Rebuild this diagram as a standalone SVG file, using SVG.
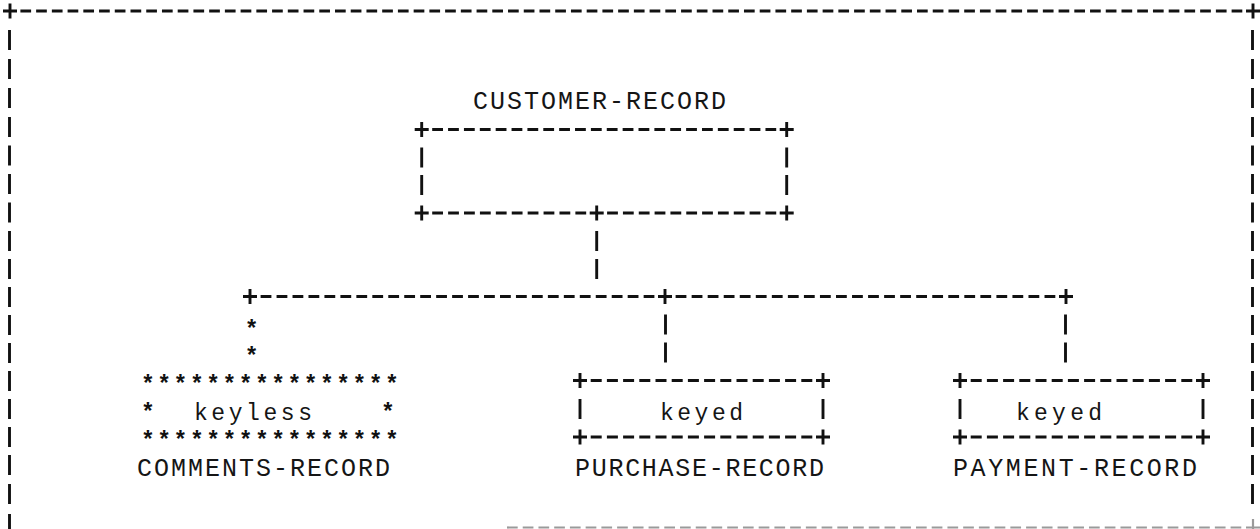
<svg xmlns="http://www.w3.org/2000/svg" width="1260" height="529" viewBox="0 0 1260 529">
  <style>
    .dash { fill: none; stroke: #111; stroke-width: 2.8; }
    .faint { fill: none; stroke: #9a9a9a; stroke-width: 2.2; }
    .mark { fill: none; stroke: #111; stroke-width: 2.9; }
    .label { font-family: "Liberation Mono", "DejaVu Sans Mono", monospace; font-size: 25px; fill: #151515; }
    .inner { font-family: "Liberation Mono", "DejaVu Sans Mono", monospace; font-size: 23px; fill: #151515; }
    .star { font-family: "Liberation Mono", "DejaVu Sans Mono", monospace; font-size: 23px; font-weight: bold; fill: #111; text-anchor: middle; }
  </style>
  <defs>
    <!-- junction / corner mark -->
    <path id="plus" class="mark" d="M -7 0 H 7 M 0 -7.5 V 7.5"/>
    <!-- vertical bar segment -->
    <path id="bar" class="mark" d="M 0 -10 V 10"/>
  </defs>
  <rect width="1260" height="529" fill="#fff"/>

  <!-- outer frame -->
  <g id="frame">
    <path class="dash" d="M 20.4 11 H 1242.6" stroke-dasharray="10.7 5.03"/>
    <use href="#plus" x="10" y="11"/>
    <use href="#plus" x="1253" y="11"/>
    <use href="#bar" x="9.5" y="40"/>
    <use href="#bar" x="9.5" y="69"/>
    <use href="#bar" x="9.5" y="98"/>
    <use href="#bar" x="9.5" y="127"/>
    <use href="#bar" x="9.5" y="155.5"/>
    <use href="#bar" x="9.5" y="184"/>
    <use href="#bar" x="9.5" y="212.5"/>
    <use href="#bar" x="9.5" y="241"/>
    <use href="#bar" x="9.5" y="269"/>
    <use href="#bar" x="9.5" y="297"/>
    <use href="#bar" x="9.5" y="325"/>
    <use href="#bar" x="9.5" y="353"/>
    <use href="#bar" x="9.5" y="381"/>
    <use href="#bar" x="9.5" y="409"/>
    <use href="#bar" x="9.5" y="437"/>
    <use href="#bar" x="9.5" y="465"/>
    <use href="#bar" x="9.5" y="494"/>
    <use href="#bar" x="9.5" y="524"/>
    <use href="#bar" x="1252.5" y="40"/>
    <use href="#bar" x="1252.5" y="69"/>
    <use href="#bar" x="1252.5" y="98"/>
    <use href="#bar" x="1252.5" y="127"/>
    <use href="#bar" x="1252.5" y="155.5"/>
    <use href="#bar" x="1252.5" y="184"/>
    <use href="#bar" x="1252.5" y="212.5"/>
    <use href="#bar" x="1252.5" y="241"/>
    <use href="#bar" x="1252.5" y="269"/>
    <use href="#bar" x="1252.5" y="297"/>
    <use href="#bar" x="1252.5" y="325"/>
    <use href="#bar" x="1252.5" y="353"/>
    <use href="#bar" x="1252.5" y="381"/>
    <use href="#bar" x="1252.5" y="409"/>
    <use href="#bar" x="1252.5" y="437"/>
    <use href="#bar" x="1252.5" y="465"/>
    <use href="#bar" x="1252.5" y="494"/>
    <!-- bottom edge, faded -->
    <path class="faint" d="M 507 527.5 H 1242" stroke-dasharray="10.7 5.03"/>
    <path class="faint" d="M 1246 527.5 H 1260 M 1253 519 V 529"/>
  </g>

  <!-- parent record -->
  <g id="customer-record">
    <text class="label" x="473" y="109" textLength="253" lengthAdjust="spacing">CUSTOMER-RECORD</text>
    <path class="dash" d="M 432.2 129.5 H 776.2" stroke-dasharray="10.8 5.07"/>
    <path class="dash" d="M 432.2 213 H 586.2" stroke-dasharray="10.8 5.109"/>
    <path class="dash" d="M 607.1 213 H 776.3" stroke-dasharray="10.8 5.033"/>
    <use href="#plus" x="421.7" y="129.5"/>
    <use href="#plus" x="786.7" y="129.5"/>
    <use href="#plus" x="421.7" y="213"/>
    <use href="#plus" x="786.7" y="213"/>
    <use href="#bar" x="421.7" y="157.5"/>
    <use href="#bar" x="421.7" y="185"/>
    <use href="#bar" x="786.7" y="157.5"/>
    <use href="#bar" x="786.7" y="185"/>
  </g>

  <!-- set connectors -->
  <g id="connectors">
    <use href="#plus" x="596.7" y="213"/>
    <use href="#bar" x="596.7" y="241"/>
    <use href="#bar" x="596.7" y="269"/>
    <path class="dash" d="M 260.6 296.5 H 654.4" stroke-dasharray="10.8 5.16"/>
    <path class="dash" d="M 675.6 296.5 H 1055.4" stroke-dasharray="10.8 5.24"/>
    <use href="#plus" x="250" y="296.5"/>
    <use href="#plus" x="665" y="296.5"/>
    <use href="#plus" x="1066" y="296.5"/>
    <text class="star" x="251.7" y="336.5">*</text>
    <text class="star" x="251.7" y="363.5">*</text>
    <use href="#bar" x="665.5" y="324.5"/>
    <use href="#bar" x="665.5" y="352.5"/>
    <use href="#bar" x="1065.5" y="324.5"/>
    <use href="#bar" x="1065.5" y="352.5"/>
  </g>

  <!-- keyless member record, starred border -->
  <g id="comments-record">
    <text class="star" x="148 164.27 180.53 196.8 213.07 229.33 245.6 261.87 278.13 294.4 310.67 326.93 343.2 359.47 375.73 392" y="392">****************</text>
    <text class="star" x="148" y="420">*</text>
    <text class="star" x="388" y="420">*</text>
    <text class="inner" x="194" y="420" textLength="118" lengthAdjust="spacing">keyless</text>
    <text class="star" x="148 164.27 180.53 196.8 213.07 229.33 245.6 261.87 278.13 294.4 310.67 326.93 343.2 359.47 375.73 392" y="448">****************</text>
    <text class="label" x="137" y="476" textLength="253" lengthAdjust="spacing">COMMENTS-RECORD</text>
  </g>

  <!-- keyed member record -->
  <g id="purchase-record">
    <path class="dash" d="M 590.7 380.5 H 812.3" stroke-dasharray="11 5.2"/>
    <path class="dash" d="M 590.7 437 H 812.3" stroke-dasharray="11 5.2"/>
    <use href="#plus" x="580" y="380.5"/>
    <use href="#plus" x="823" y="380.5"/>
    <use href="#plus" x="580" y="437"/>
    <use href="#plus" x="823" y="437"/>
    <use href="#bar" x="580" y="409"/>
    <use href="#bar" x="823" y="409"/>
    <text class="inner" x="660" y="420" textLength="83" lengthAdjust="spacing">keyed</text>
    <text class="label" x="575" y="476" textLength="249" lengthAdjust="spacing">PURCHASE-RECORD</text>
  </g>

  <!-- keyed member record -->
  <g id="payment-record">
    <path class="dash" d="M 970.7 380.5 H 1192.3" stroke-dasharray="11 5.2"/>
    <path class="dash" d="M 970.7 437 H 1192.3" stroke-dasharray="11 5.2"/>
    <use href="#plus" x="960" y="380.5"/>
    <use href="#plus" x="1203" y="380.5"/>
    <use href="#plus" x="960" y="437"/>
    <use href="#plus" x="1203" y="437"/>
    <use href="#bar" x="960" y="409"/>
    <use href="#bar" x="1203" y="409"/>
    <text class="inner" x="1016" y="420" textLength="86" lengthAdjust="spacing">keyed</text>
    <text class="label" x="953" y="476" textLength="244" lengthAdjust="spacing">PAYMENT-RECORD</text>
  </g>
</svg>
